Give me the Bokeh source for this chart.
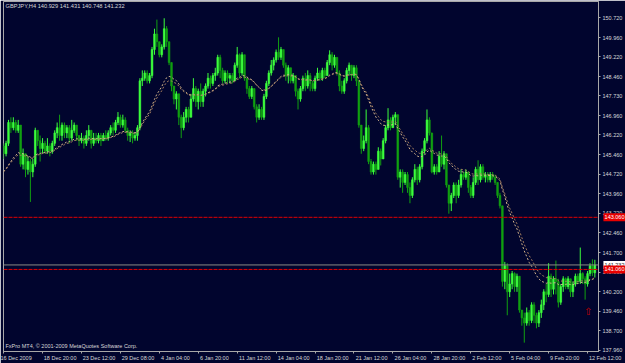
import numpy as np
from bokeh.plotting import figure
from bokeh.layouts import row
from bokeh.models import Range1d, FixedTicker, Label, Span
from bokeh.embed import file_html
from bokeh.resources import INLINE
from bokeh.core.properties import value

# ---------------- data (GBPJPY, H4) ----------------
symbol_title = "GBPJPY,H4  140.929 141.431 140.748 141.232"
copyright_text = "FxPro MT4, \u00a9 2001-2009 MetaQuotes Software Corp."

first_open = 145.8
closes = [
    145.5, 145.9, 146.7, 146.5, 146.7, 146.4, 146.6, 145.1, 145.5, 144.9,
    145.2, 144.8, 145.1, 146.4, 146.0, 145.7, 145.9, 145.6, 145.8, 145.6,
    145.9, 146.3, 146.5, 146.2, 146.6, 146.3, 146.5, 146.1, 146.4, 146.6,
    146.2, 146.0, 146.1, 145.9, 146.2, 146.4, 145.9, 146.1, 146.0, 146.2,
    146.0, 146.2, 146.1, 146.3, 146.5, 146.4, 146.7, 146.9, 146.6, 146.8,
    146.4, 146.2, 146.3, 146.1, 146.2, 146.5, 148.3, 148.4, 148.6, 148.3,
    148.5, 149.5, 150.1, 149.8, 149.3, 149.6, 150.3, 149.8, 149.0, 148.1,
    147.6, 147.8, 146.9, 146.5, 146.9, 147.2, 146.9, 147.6, 148.0, 147.5,
    147.9, 147.5, 147.9, 148.1, 148.4, 148.2, 148.5, 148.6, 149.2, 148.7,
    148.3, 148.6, 148.4, 148.5, 148.3, 148.9, 149.3, 148.6, 149.3, 148.4,
    148.0, 147.7, 148.0, 147.3, 146.9, 147.2, 146.9, 147.7, 148.2, 148.6,
    148.9, 149.1, 149.4, 149.2, 149.5, 148.9, 148.5, 148.8, 148.3, 148.5,
    147.9, 147.6, 148.0, 148.4, 148.1, 148.5, 148.2, 148.0, 148.4, 148.6,
    148.4, 148.7, 148.5, 149.0, 149.3, 148.9, 149.2, 148.6, 148.1, 147.9,
    148.3, 148.7, 148.9, 148.5, 148.8, 148.3, 146.6, 145.7, 146.0, 146.5,
    145.2, 144.8, 145.1, 144.9, 145.6, 145.3, 146.0, 146.5, 146.8, 146.5,
    146.9, 147.0, 144.6, 144.8, 144.4, 144.7, 144.2, 143.9, 144.5, 144.9,
    144.5, 145.0, 145.6, 146.0, 146.8, 146.3, 144.8, 145.0, 144.8, 145.4,
    145.1, 145.5, 144.3, 143.6, 143.9, 144.3, 143.9, 144.3, 144.7, 144.6,
    144.8, 144.2, 143.9, 144.4, 144.9, 144.5, 145.0, 144.6, 144.7, 144.5,
    144.7, 144.6, 144.4, 143.9, 143.5, 140.6, 141.2, 140.2, 140.5, 140.9,
    140.4, 140.8, 139.5, 139.2, 139.0, 139.4, 139.1, 139.7, 139.3, 139.0,
    139.4, 139.7, 140.2, 140.1, 140.8, 140.3, 140.7, 140.6, 139.8, 140.4,
    140.7, 140.4, 140.7, 140.2, 140.5, 140.8, 140.6, 140.9, 140.7, 140.5,
    140.9, 141.2, 140.929, 141.232,
]
highs = [
    145.9, 146.0, 146.8, 146.9, 146.9, 146.8, 146.8, 146.6, 145.7, 145.5,
    145.4, 145.3, 145.3, 146.5, 146.4, 146.2, 146.1, 146.0, 146.1, 145.9,
    146.0, 146.4, 146.7, 147.0, 146.7, 146.7, 146.6, 146.6, 146.8, 146.7,
    146.6, 146.2, 146.3, 146.2, 146.4, 146.6, 146.4, 146.3, 146.3, 146.3,
    146.3, 146.3, 146.4, 146.4, 146.6, 146.7, 146.8, 147.1, 147.0, 147.0,
    146.9, 146.5, 146.4, 146.4, 146.3, 146.6, 148.4, 148.7, 148.7, 148.7,
    148.6, 149.6, 150.3, 150.65, 149.8, 149.7, 150.7, 150.4, 149.8, 149.0,
    148.1, 147.9, 147.8, 147.0, 147.1, 147.3, 147.3, 147.8, 148.4, 148.1,
    148.0, 148.2, 148.0, 148.2, 148.6, 148.5, 148.6, 148.8, 149.3, 149.3,
    148.8, 148.7, 148.7, 148.6, 148.6, 149.0, 149.6, 149.35, 149.4, 149.3,
    148.4, 148.1, 148.1, 148.0, 147.4, 147.4, 147.3, 147.8, 148.3, 148.7,
    149.1, 149.2, 149.5, 149.97, 149.6, 149.5, 149.0, 148.9, 148.8, 148.6,
    148.5, 148.0, 148.1, 148.5, 148.6, 148.7, 148.6, 148.3, 148.5, 148.8,
    148.7, 148.8, 148.8, 149.1, 149.47, 149.4, 149.3, 149.2, 148.7, 148.3,
    148.4, 148.8, 149.0, 148.9, 148.9, 148.9, 148.3, 146.6, 146.2, 147.2,
    146.6, 145.3, 145.2, 145.2, 145.75, 145.7, 146.1, 146.6, 147.25, 146.9,
    147.0, 147.1, 147.0, 144.9, 144.9, 144.8, 144.8, 144.4, 144.6, 145.1,
    145.0, 145.1, 145.7, 146.1, 147.2, 146.9, 146.3, 145.1, 145.1, 145.6,
    146.2, 145.6, 145.5, 144.3, 144.0, 144.4, 144.4, 144.5, 144.9, 144.8,
    144.9, 144.8, 144.3, 144.6, 145.0, 145.25, 145.1, 145.1, 144.8, 144.8,
    144.8, 144.8, 144.7, 144.4, 144.0, 143.5, 141.35, 141.3, 140.9, 141.0,
    140.95, 140.9, 140.8, 139.5, 139.4, 139.6, 139.5, 139.8, 139.8, 139.4,
    139.5, 139.9, 140.3, 140.5, 141.3, 140.9, 140.8, 141.4, 140.7, 140.5,
    140.8, 140.75, 140.8, 140.7, 140.6, 140.9, 140.9, 141.9, 140.95, 140.8,
    141.0, 141.3, 141.45, 141.431,
]
lows = [
    145.3, 145.4, 145.8, 146.3, 146.4, 146.3, 146.3, 145.0, 144.9, 144.6,
    144.7, 143.65, 144.6, 145.0, 145.8, 145.2, 145.5, 145.5, 145.5, 145.4,
    145.5, 145.8, 146.1, 146.0, 146.0, 146.1, 146.1, 145.9, 146.0, 146.3,
    146.0, 145.8, 145.9, 145.7, 145.8, 146.0, 145.7, 145.8, 145.9, 145.9,
    145.8, 146.0, 146.0, 146.0, 146.2, 146.2, 146.3, 146.6, 146.5, 146.5,
    146.3, 146.0, 145.95, 145.9, 146.0, 146.0, 146.4, 148.1, 148.3, 148.2,
    148.2, 148.4, 149.3, 149.6, 149.2, 149.2, 149.5, 149.6, 148.9, 147.9,
    147.4, 147.2, 146.6, 146.1, 146.4, 146.7, 146.7, 146.9, 147.5, 147.3,
    147.2, 147.3, 147.3, 147.7, 148.0, 148.0, 148.1, 148.3, 148.5, 148.4,
    148.2, 148.2, 148.2, 148.2, 148.2, 148.3, 148.8, 148.4, 148.5, 148.3,
    147.8, 147.6, 147.6, 147.2, 146.7, 146.8, 146.8, 146.8, 147.6, 148.1,
    148.5, 148.7, 149.0, 149.1, 149.1, 148.8, 148.3, 148.2, 148.2, 148.2,
    147.7, 147.2, 147.5, 147.9, 147.9, 148.0, 147.9, 147.9, 147.9, 148.3,
    148.3, 148.3, 148.4, 148.5, 148.9, 148.7, 148.8, 148.5, 147.9, 147.8,
    147.8, 148.2, 148.5, 148.3, 148.4, 148.1, 146.5, 145.5, 145.6, 145.9,
    145.1, 144.7, 144.7, 144.7, 144.9, 145.05, 145.3, 145.9, 146.4, 146.4,
    146.5, 146.6, 144.5, 144.2, 144.0, 144.3, 144.0, 143.6, 143.8, 144.4,
    144.3, 144.4, 144.9, 145.5, 145.9, 146.2, 144.75, 144.7, 144.7, 144.8,
    145.0, 144.9, 144.2, 143.2, 143.3, 143.8, 143.6, 143.8, 144.2, 144.5,
    144.5, 144.0, 143.8, 143.8, 144.3, 144.3, 144.4, 144.5, 144.4, 144.4,
    144.4, 144.5, 144.3, 143.8, 143.4, 140.4, 140.3, 139.3, 140.0, 140.3,
    140.2, 140.2, 139.4, 138.9, 138.25, 138.9, 138.9, 139.0, 139.0, 138.8,
    138.85, 139.2, 139.5, 139.8, 140.0, 140.0, 140.1, 140.1, 139.6, 139.7,
    140.2, 140.3, 140.3, 140.0, 140.0, 140.4, 140.5, 140.5, 140.5, 139.9,
    140.4, 140.8, 140.8, 140.748,
]

date_tick_bars = [0, 16, 32, 48, 64, 80, 96, 112, 128, 144, 160, 176, 192, 208, 224, 240]
date_labels = ["16 Dec 2009", "18 Dec 20:00", "23 Dec 12:00", "29 Dec 08:00", "4 Jan 04:00",
               "6 Jan 20:00", "11 Jan 12:00", "14 Jan 04:00", "18 Jan 20:00", "21 Jan 12:00",
               "26 Jan 04:00", "28 Jan 20:00", "2 Feb 12:00", "5 Feb 04:00", "9 Feb 20:00",
               "12 Feb 12:00"]
price_labels = ["150.720", "149.960", "149.220", "148.460", "147.730", "146.960", "146.220",
                "145.460", "144.720", "143.960", "143.220", "142.460", "141.700", "140.960",
                "140.200", "139.460", "138.700", "137.960"]

level_prices = [143.06, 141.06]
level_labels = ["143.060", "141.060"]
ma_seed = 144.75
ma_periods = [21, 24]
arrow_bar = [240.3]
arrow_price = [139.44]

# ---------------- derived ----------------
n = len(closes)
idx = np.arange(n)
opens = [first_open] + closes[:-1]
body_top = [max(o, c) for o, c in zip(opens, closes)]
body_bot = [min(o, c) for o, c in zip(opens, closes)]
hi = [max(h, t) for h, t in zip(highs, body_top)]
lo = [min(l, b) for l, b in zip(lows, body_bot)]
BULL, BEAR = "#3CFF3C", "#11A011"
cols = [BULL if c >= o else BEAR for o, c in zip(opens, closes)]


def ema(vals, period, seed):
    a = 2.0 / (period + 1)
    m, out = seed, []
    for v in vals:
        m = m + a * (v - m)
        out.append(m)
    return out


# left-aligned date labels: pad on the left with (non-collapsing) spaces of
# roughly the same width as the text, so the centred label starts at the tick
def left_pad(s):
    w = 0.0
    for ch in s:
        if ch.isdigit():
            w += 0.556
        elif ch in " :":
            w += 0.278
        elif ch in "DF":
            w += 0.667
        else:
            w += 0.53
    w += 0.6
    n_fig = int(w // 0.556)
    rest = w - n_fig * 0.556
    n_punct = int(round(rest / 0.278))
    return "\u2007" * n_fig + "\u2008" * n_punct + s


BG = "#01052E"
TXT = "#D8D8D8"
FONT = "Liberation Sans"
TOP, BOTTOM = 1, 11

p = figure(width=625, height=363, output_backend="svg", toolbar_location=None,
           x_range=Range1d(-0.05, 244.5), y_range=Range1d(137.91, 151.344),
           x_axis_location="below", y_axis_location="right",
           min_border_left=3, min_border_right=0, min_border_top=TOP, min_border_bottom=0,
           background_fill_color=BG, border_fill_color=BG,
           outline_line_color="#A8A8A8", outline_line_width=1)
p.grid.visible = False

xa = p.xaxis[0]
xa.ticker = FixedTicker(ticks=date_tick_bars)
overrides = {b: left_pad(s) for b, s in zip(date_tick_bars, date_labels)}
overrides[date_tick_bars[0]] = date_labels[0]  # first label is pushed inside the canvas anyway
xa.major_label_overrides = overrides
xa.major_label_text_font = FONT
xa.major_label_text_font_size = "5.5px"
xa.major_label_text_color = TXT
xa.major_label_standoff = 1
xa.major_tick_out = 2
xa.major_tick_in = 0
xa.minor_tick_out = 0
xa.minor_tick_in = 0
xa.major_tick_line_color = "#A8A8A8"
xa.axis_line_color = "#A8A8A8"

ya = p.yaxis[0]
tick_vals = [float(s) for s in price_labels]
ya.ticker = FixedTicker(ticks=tick_vals)
ya.major_label_overrides = {v: s for v, s in zip(tick_vals, price_labels)}
ya.major_label_text_font = FONT
ya.major_label_text_font_size = "5.5px"
ya.major_label_text_color = TXT
ya.major_label_standoff = 2
ya.major_tick_out = 2
ya.major_tick_in = 0
ya.minor_tick_out = 0
ya.minor_tick_in = 0
ya.major_tick_line_color = "#A8A8A8"
ya.axis_line_color = "#A8A8A8"

# horizontal level lines
for lv in level_prices:
    p.add_layout(Span(location=lv, dimension="width", line_color="#E00000",
                      line_width=1, line_dash="4 1"))
p.add_layout(Span(location=closes[-1], dimension="width", line_color="#8C8C84", line_width=1))

# candles
p.segment(x0=idx, y0=lo, x1=idx, y1=hi, line_color=cols, line_width=1)
p.vbar(x=idx, width=0.7, top=body_top, bottom=body_bot, fill_color=cols, line_color=cols,
       line_width=0.6)

# moving averages
p.line(idx, ema(closes, ma_periods[0], ma_seed), line_color="#D2B48C", line_width=1,
       line_dash="2 2")
p.line(idx, ema(closes, ma_periods[1], ma_seed), line_color="#A88060", line_width=1,
       line_dash="2 2")

# arrow object
p.text(x=arrow_bar, y=arrow_price, text=["\u21e7"], text_color="#C00000",
       text_font=value("DejaVu Sans"), text_font_size="10px", text_align="center",
       text_baseline="middle")

# texts
p.add_layout(Label(x=2, y=343, x_units="screen", y_units="screen", text=symbol_title,
                   text_font=FONT, text_font_size="5.7px", text_color=TXT))
p.add_layout(Label(x=2, y=3, x_units="screen", y_units="screen", text=copyright_text,
                   text_font=FONT, text_font_size="5.5px", text_color=TXT))

# ---- price-scale tags (bid + level lines), drawn on a transparent strip that
# ---- lies over the price scale and shares the chart's price range
q = figure(width=23, height=363, output_backend="svg", toolbar_location=None,
           x_range=Range1d(0, 1), y_range=p.y_range,
           x_axis_location=None, y_axis_location=None,
           min_border_left=0, min_border_right=0, min_border_top=TOP, min_border_bottom=BOTTOM,
           background_fill_alpha=0, border_fill_alpha=0, outline_line_color=None,
           styles={"position": "absolute", "left": "602px", "top": "0px"})
q.grid.visible = False
bid = [closes[-1]]
q.rect(x=[0.52], y=bid, width=0.96, height=8, height_units="screen",
       fill_color="white", line_color=None)
q.text(x=[0.09], y=bid, text=[f"{closes[-1]:.3f}"], text_color="#202020",
       text_font=value(FONT), text_font_size="5.5px", text_baseline="middle")
q.rect(x=[0.52] * len(level_prices), y=level_prices, width=0.96, height=8,
       height_units="screen", fill_color="#E80000", line_color=None)
q.text(x=[0.09] * len(level_prices), y=level_prices, text=level_labels, text_color="white",
       text_font=value(FONT), text_font_size="5.5px", text_baseline="middle")

layout = row(p, q)
open("out.html", "w").write(file_html(layout, INLINE))
